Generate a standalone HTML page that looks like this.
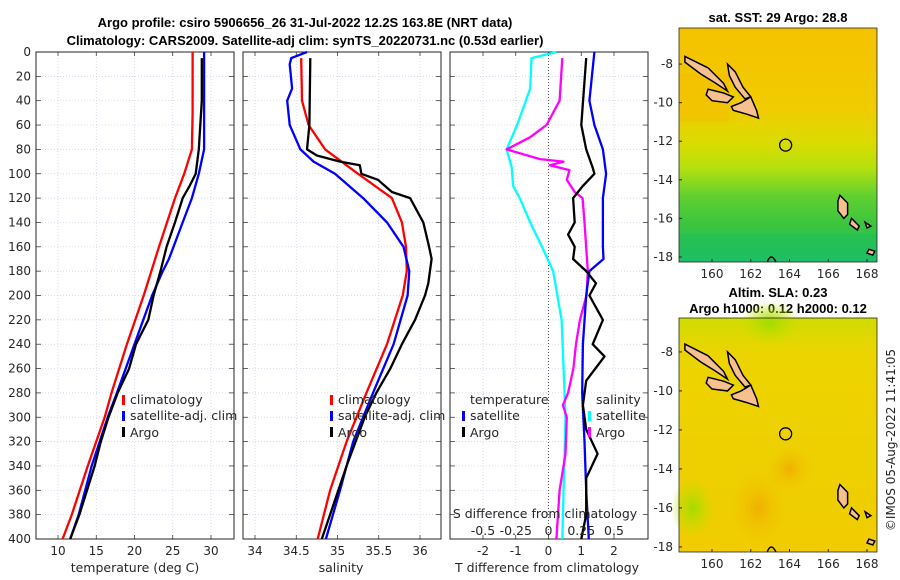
<!DOCTYPE html>
<html><head><meta charset="utf-8">
<style>
html,body{margin:0;padding:0;background:#fff;}
svg{display:block;font-family:"DejaVu Sans","Liberation Sans",sans-serif;}
</style></head>
<body>
<svg id="fig" width="900" height="580" viewBox="0 0 900 580">
<defs>
<linearGradient id="sstGrad" x1="0" y1="0" x2="0" y2="1">
<stop offset="0" stop-color="#f5c200"/><stop offset="0.35" stop-color="#f0cc00"/><stop offset="0.5" stop-color="#d8dc00"/><stop offset="0.6" stop-color="#b4e010"/><stop offset="0.72" stop-color="#60d030"/><stop offset="0.85" stop-color="#38c440"/><stop offset="1" stop-color="#20c070"/>
</linearGradient>
<linearGradient id="slaGrad" x1="0" y1="0" x2="0" y2="1">
<stop offset="0" stop-color="#d0dc00"/><stop offset="0.15" stop-color="#ecd400"/><stop offset="1" stop-color="#f0cc00"/>
</linearGradient>
<radialGradient id="slaSpot"><stop offset="0" stop-color="#f0b000"/><stop offset="1" stop-color="#f0c800" stop-opacity="0"/></radialGradient>
<radialGradient id="greenSpot"><stop offset="0" stop-color="#a0dc00"/><stop offset="1" stop-color="#c0e000" stop-opacity="0"/></radialGradient>
</defs>
<g id="titles" font-weight="bold" font-size="13" fill="#000" text-anchor="middle" font-family="Liberation Sans, sans-serif">
<text x="305" y="27">Argo profile: csiro 5906656_26 31-Jul-2022 12.2S 163.8E (NRT data)</text>
<text x="305" y="45">Climatology: CARS2009. Satellite-adj clim: synTS_20220731.nc (0.53d earlier)</text>
<text x="778" y="22">sat. SST: 29 Argo: 28.8</text>
<text x="778" y="297">Altim. SLA: 0.23</text>
<text x="778" y="313">Argo h1000: 0.12 h2000: 0.12</text>
</g>
<text transform="translate(895,440) rotate(-90)" font-size="12" fill="#262626" text-anchor="middle">©IMOS 05-Aug-2022 11:41:05</text>
<g id="plots"></g>
</svg>
<script>
// ---- data (depth in m) ----
const tClimDepth=[0,50,80,100,120,160,200,240,280,300,340,380,400];
const tClimVal=[27.6,27.6,27.5,26.5,25.3,23.2,21.2,19.0,17.0,16.1,13.9,11.8,10.6];
const tSatDepth=[0,80,100,120,140,160,170,180,200,240,280,300,340,380,400];
const tSatVal=[29.1,29.1,28.4,27.5,26.3,25.1,24.5,23.7,22.3,20.0,17.7,16.5,14.4,12.7,11.6];
const tArgoDepth=[5,40,60,80,100,110,120,140,160,180,200,220,240,260,280,300,320,340,380,400];
const tArgoVal=[28.8,28.8,28.6,28.4,28.0,27.2,26.3,25.3,24.2,23.4,22.5,21.8,20.2,19.3,17.8,16.6,15.6,14.8,12.8,11.6];
const sClimDepth=[5,40,60,80,100,120,140,160,180,200,240,280,320,360,400];
const sClimVal=[34.56,34.57,34.65,34.85,35.25,35.66,35.78,35.83,35.84,35.79,35.60,35.35,35.11,34.91,34.76];
const sSatDepth=[0,5,10,30,40,60,80,90,100,120,140,160,180,200,240,280,320,360,400];
const sSatVal=[34.63,34.44,34.42,34.45,34.39,34.42,34.55,34.71,34.97,35.31,35.60,35.80,35.87,35.85,35.68,35.43,35.19,35.03,34.86];
const sArgoDepth=[5,60,80,85,90,93,100,105,115,120,140,160,170,190,200,220,240,260,280,300,340,380,400];
const sArgoVal=[34.67,34.66,34.63,34.75,35.03,35.27,35.29,35.49,35.66,35.88,36.04,36.11,36.14,36.10,36.06,35.94,35.78,35.64,35.47,35.33,35.11,34.91,34.81];
const dTSatDepth=[0,40,60,80,100,120,160,170,180,200,240,280,320,360,400];
const dTSatVal=[1.40,1.25,1.40,1.66,1.76,1.66,1.66,1.68,1.25,1.15,1.05,1.03,1.10,1.15,1.23];
const dTArgoDepth=[5,60,80,95,100,110,120,140,150,160,170,180,190,200,220,240,250,270,290,310,330,350,380,400];
const dTArgoVal=[1.15,1.0,1.15,1.35,1.4,1.05,0.75,0.8,0.6,0.8,0.75,1.15,1.45,1.25,1.66,1.35,1.71,1.15,1.05,1.15,1.5,1.15,1.15,1.0];
const dSSatDepth=[0,5,30,60,80,95,110,120,140,160,180,220,260,300,400];
const dSSatVal=[0.06,-0.13,-0.14,-0.24,-0.32,-0.28,-0.27,-0.22,-0.14,-0.05,0.035,0.10,0.115,0.13,0.105];
const dSArgoDepth=[5,40,60,70,80,88,90,93,97,105,115,120,140,180,200,220,240,260,280,290,300,330,360,400];
const dSArgoVal=[0.105,0.085,-0.015,-0.14,-0.32,-0.065,0.115,0.01,0.16,0.14,0.2,0.26,0.275,0.30,0.29,0.24,0.21,0.19,0.15,0.11,0.14,0.13,0.085,0.06];
const depthTicks=[0,20,40,60,80,100,120,140,160,180,200,220,240,260,280,300,320,340,360,380,400];
const tTicks=[10,15,20,25,30];
const sTicks=[34,34.5,35,35.5,36];
const sTickLabels=["34","34.5","35","35.5","36"];
const dTTicks=[-2,-1,0,1,2];
const dSTicks=[-0.5,-0.25,0,0.25,0.5];
const dSTickLabels=["-0.5","-0.25","0","0.25","0.5"];
const lonTicks=[160,162,164,166,168];
const latTicks=[-8,-10,-12,-14,-16,-18];

const NS="http://www.w3.org/2000/svg";
const root=document.getElementById('plots');
function mk(tag,attrs,parent){const e=document.createElementNS(NS,tag);for(const k in attrs)e.setAttribute(k,attrs[k]);(parent||root).appendChild(e);return e;}
const Y0=52,Y1=539;
function yD(d){return Y0+(Y1-Y0)*d/400;}
function lin(a,b,p0,p1){return v=>p0+(v-a)/(b-a)*(p1-p0);}

function panel(name,x0,x1,xs,ticks,labels,showY){
  const g=mk('g',{});
  
  
  for(const d of depthTicks){const l=mk('line',{x1:x0,x2:x1,y1:yD(d),y2:yD(d),stroke:'#c8cde8','stroke-width':0.7,'stroke-dasharray':'1,2'},g);
    }
  ticks.forEach((t,i)=>{const x=xs(t);const l=mk('line',{x1:x,x2:x,y1:Y0,y2:Y1,stroke:'#c8cde8','stroke-width':0.7,'stroke-dasharray':'1,2'},g);
    
    mk('line',{x1:x,x2:x,y1:Y1,y2:Y1-4,stroke:'#262626','stroke-width':0.7},g);
    mk('line',{x1:x,x2:x,y1:Y0,y2:Y0+4,stroke:'#262626','stroke-width':0.7},g);
    if(labels){const t2=mk('text',{x:x,y:555,'font-size':12,fill:'#262626','text-anchor':'middle'},g);t2.textContent=labels[i];
      }
  });
  for(const d of depthTicks){mk('line',{x1:x0,x2:x0+5,y1:yD(d),y2:yD(d),stroke:'#262626','stroke-width':0.7},g);
    mk('line',{x1:x1,x2:x1-5,y1:yD(d),y2:yD(d),stroke:'#262626','stroke-width':0.7},g);
    if(showY){const t=mk('text',{x:31,y:yD(d)+4,'font-size':12,fill:'#262626','text-anchor':'end'},g);t.textContent=d;
      }}
  const r=mk('rect',{x:x0,y:Y0,width:x1-x0,height:Y1-Y0,fill:'none',stroke:'#262626','stroke-width':1},g);
  
  return g;
}
function line(g,name,depths,vals,xs,color){
  const pts=depths.map((d,i)=>xs(vals[i]).toFixed(1)+','+yD(d).toFixed(1)).join(' ');
  const p=mk('polyline',{points:pts,fill:'none',stroke:color,'stroke-width':2.3,'stroke-linejoin':'round'},g);
  
}
function txt(g,name,x,y,s,anchor){const t=mk('text',{x:x,y:y,'font-size':12.5,fill:'#262626','text-anchor':anchor||'start'},g);t.textContent=s;
  return t;}
function mark(g,x,y,c){const r=mk('rect',{x:x,y:y-10,width:3,height:10,fill:c},g);}

// panel 1 temperature
const xT=lin(10,30,58,211);
const g1=panel('temperature-panel',36,234,xT,tTicks,tTicks.map(String),true);
line(g1,'temp-climatology-line',tClimDepth,tClimVal,xT,'#ff0000');
line(g1,'temp-satellite-line',tSatDepth,tSatVal,xT,'#0000ff');
line(g1,'temp-argo-line',tArgoDepth,tArgoVal,xT,'#000000');
txt(g1,'temp-x-axis-title',135,572,'temperature (deg C)','middle');
mark(g1,122,405,'#ff0000');txt(g1,'legend-climatology',130,404,'climatology');
mark(g1,122,421,'#0000ff');txt(g1,'legend-satellite-adj',130,420,'satellite-adj. clim');
mark(g1,122,437,'#000000');txt(g1,'legend-argo',130,437,'Argo');

// panel 2 salinity
const xS=lin(34,36,255,420);
const g2=panel('salinity-panel',243,441,xS,sTicks,sTickLabels,false);
line(g2,'sal-climatology-line',sClimDepth,sClimVal,xS,'#ff0000');
line(g2,'sal-satellite-line',sSatDepth,sSatVal,xS,'#0000ff');
line(g2,'sal-argo-line',sArgoDepth,sArgoVal,xS,'#000000');
txt(g2,'sal-x-axis-title',341,572,'salinity','middle');
mark(g2,330,405,'#ff0000');txt(g2,'legend-climatology',338,404,'climatology');
mark(g2,330,421,'#0000ff');txt(g2,'legend-satellite-adj',338,420,'satellite-adj. clim');
mark(g2,330,437,'#000000');txt(g2,'legend-argo',338,437,'Argo');

// panel 3 differences
const xDT=lin(-2,2,483,614);
const xDS=lin(-0.5,0.5,483,614);
const g3=panel('difference-panel',450,648,xDT,dTTicks,dTTicks.map(String),false);
const z=mk('line',{x1:xDT(0),x2:xDT(0),y1:Y0,y2:Y1,stroke:'#333','stroke-width':0.8,'stroke-dasharray':'1,2'},g3);

line(g3,'sdiff-satellite-line',dSSatDepth,dSSatVal,xDS,'#00ffff');
line(g3,'sdiff-argo-line',dSArgoDepth,dSArgoVal,xDS,'#ff00ff');
line(g3,'tdiff-satellite-line',dTSatDepth,dTSatVal,xDT,'#0000ff');
line(g3,'tdiff-argo-line',dTArgoDepth,dTArgoVal,xDT,'#000000');
txt(g3,'tdiff-x-axis-title',547,572,'T difference from climatology','middle');
txt(g3,'sdiff-axis-title',545,518,'S difference from climatology','middle');
dSTicks.forEach((v,i)=>{const t=txt(g3,'sdiff-tick-label',xDS(v),535,dSTickLabels[i],'middle');});
txt(g3,'legend-temperature-header',470,404,'temperature');
txt(g3,'legend-salinity-header',596,404,'salinity');
mark(g3,462,421,'#0000ff');txt(g3,'legend-t-satellite',470,420,'satellite');
mark(g3,462,437,'#000000');txt(g3,'legend-t-argo',470,437,'Argo');
mark(g3,588,421,'#00ffff');txt(g3,'legend-s-satellite',596,420,'satellite');
mark(g3,588,437,'#ff00ff');txt(g3,'legend-s-argo',596,437,'Argo');

// maps
function map(name,top,bottom,latTop,latBot,fill,extras){
  const g=mk('g',{});
  
  const xL=lin(160,168,712,867), yL=lin(latTop,latBot,top,bottom);
  mk('rect',{x:679,y:top,width:198,height:bottom-top,fill:fill},g);
  extras(g,xL,yL);
  const isl=[[[158.6,-7.6],[159.8,-8.2],[160.6,-9.0],[160.8,-9.4],[160.2,-9.0],[159.4,-8.5],[158.6,-7.9]],
    [[160.8,-8.0],[161.2,-8.4],[161.6,-9.2],[162.0,-9.7],[161.7,-9.8],[161.2,-9.2],[160.9,-8.6]],
    [[159.8,-9.3],[160.6,-9.5],[161.1,-9.7],[160.8,-10.0],[160.0,-9.9],[159.7,-9.6]],
    [[161.0,-10.2],[161.5,-10.0],[162.0,-9.7],[162.3,-10.4],[162.4,-10.8],[161.8,-10.6],[161.1,-10.4]],
    [[166.6,-14.8],[167.0,-15.2],[167.0,-15.8],[166.8,-16.0],[166.5,-15.6],[166.5,-15.1]],
    [[167.2,-16.0],[167.6,-16.4],[167.5,-16.6],[167.1,-16.3]],
    [[168.1,-17.6],[168.4,-17.7],[168.3,-17.9],[168.0,-17.8]],
    [[167.9,-16.2],[168.2,-16.4],[168.0,-16.5]]];
  for(const p of isl){const s=mk('polygon',{points:p.map(q=>xL(q[0]).toFixed(1)+','+yL(q[1]).toFixed(1)).join(' '),fill:'#f7c08e',stroke:'#000','stroke-width':1.5},g);
    }
  const c=mk('circle',{cx:xL(163.8),cy:yL(-12.2),r:6,fill:'none',stroke:'#000','stroke-width':1.3},g);
  
  mk('path',{d:`M${xL(162.85)} ${bottom} Q${xL(163.05)} ${bottom-10} ${xL(163.3)} ${bottom}`,fill:'none',stroke:'#000','stroke-width':1.5},g);
  lonTicks.forEach(v=>{mk('line',{x1:xL(v),x2:xL(v),y1:bottom,y2:bottom-3,stroke:'#262626'},g);
    const t=mk('text',{x:xL(v),y:bottom+16,'font-size':12,fill:'#262626','text-anchor':'middle'},g);t.textContent=v;
    });
  latTicks.forEach(v=>{mk('line',{x1:679,x2:682,y1:yL(v),y2:yL(v),stroke:'#262626'},g);
    const t=mk('text',{x:673,y:yL(v)+4,'font-size':12,fill:'#262626','text-anchor':'end'},g);t.textContent=v;
    });
  mk('rect',{x:679,y:top,width:198,height:bottom-top,fill:'none',stroke:'#262626','stroke-width':0.8},g);
}
map('sst-map',28,262,-6.13,-18.26,'url(#sstGrad)',(g,xL,yL)=>{
  mk('rect',{x:679,y:yL(-8.5),width:50,height:yL(-11)-yL(-8.5),fill:'#f5b400',opacity:0.35},g);
  mk('rect',{x:679,y:yL(-16.8),width:198,height:yL(-18.26)-yL(-16.8),fill:'#18bc58',opacity:0.4},g);
});
map('sla-map',318,552,-6.26,-18.26,'url(#slaGrad)',(g,xL,yL)=>{
  mk('ellipse',{cx:xL(162.4),cy:yL(-16),rx:30,ry:40,fill:'url(#slaSpot)'},g);
  mk('ellipse',{cx:xL(164),cy:yL(-14),rx:25,ry:25,fill:'url(#slaSpot)'},g);
  mk('ellipse',{cx:xL(159),cy:yL(-16),rx:22,ry:30,fill:'url(#greenSpot)'},g);
  mk('ellipse',{cx:xL(163),cy:yL(-6.5),rx:30,ry:22,fill:'url(#greenSpot)'},g);
});
</script>
</body></html>
